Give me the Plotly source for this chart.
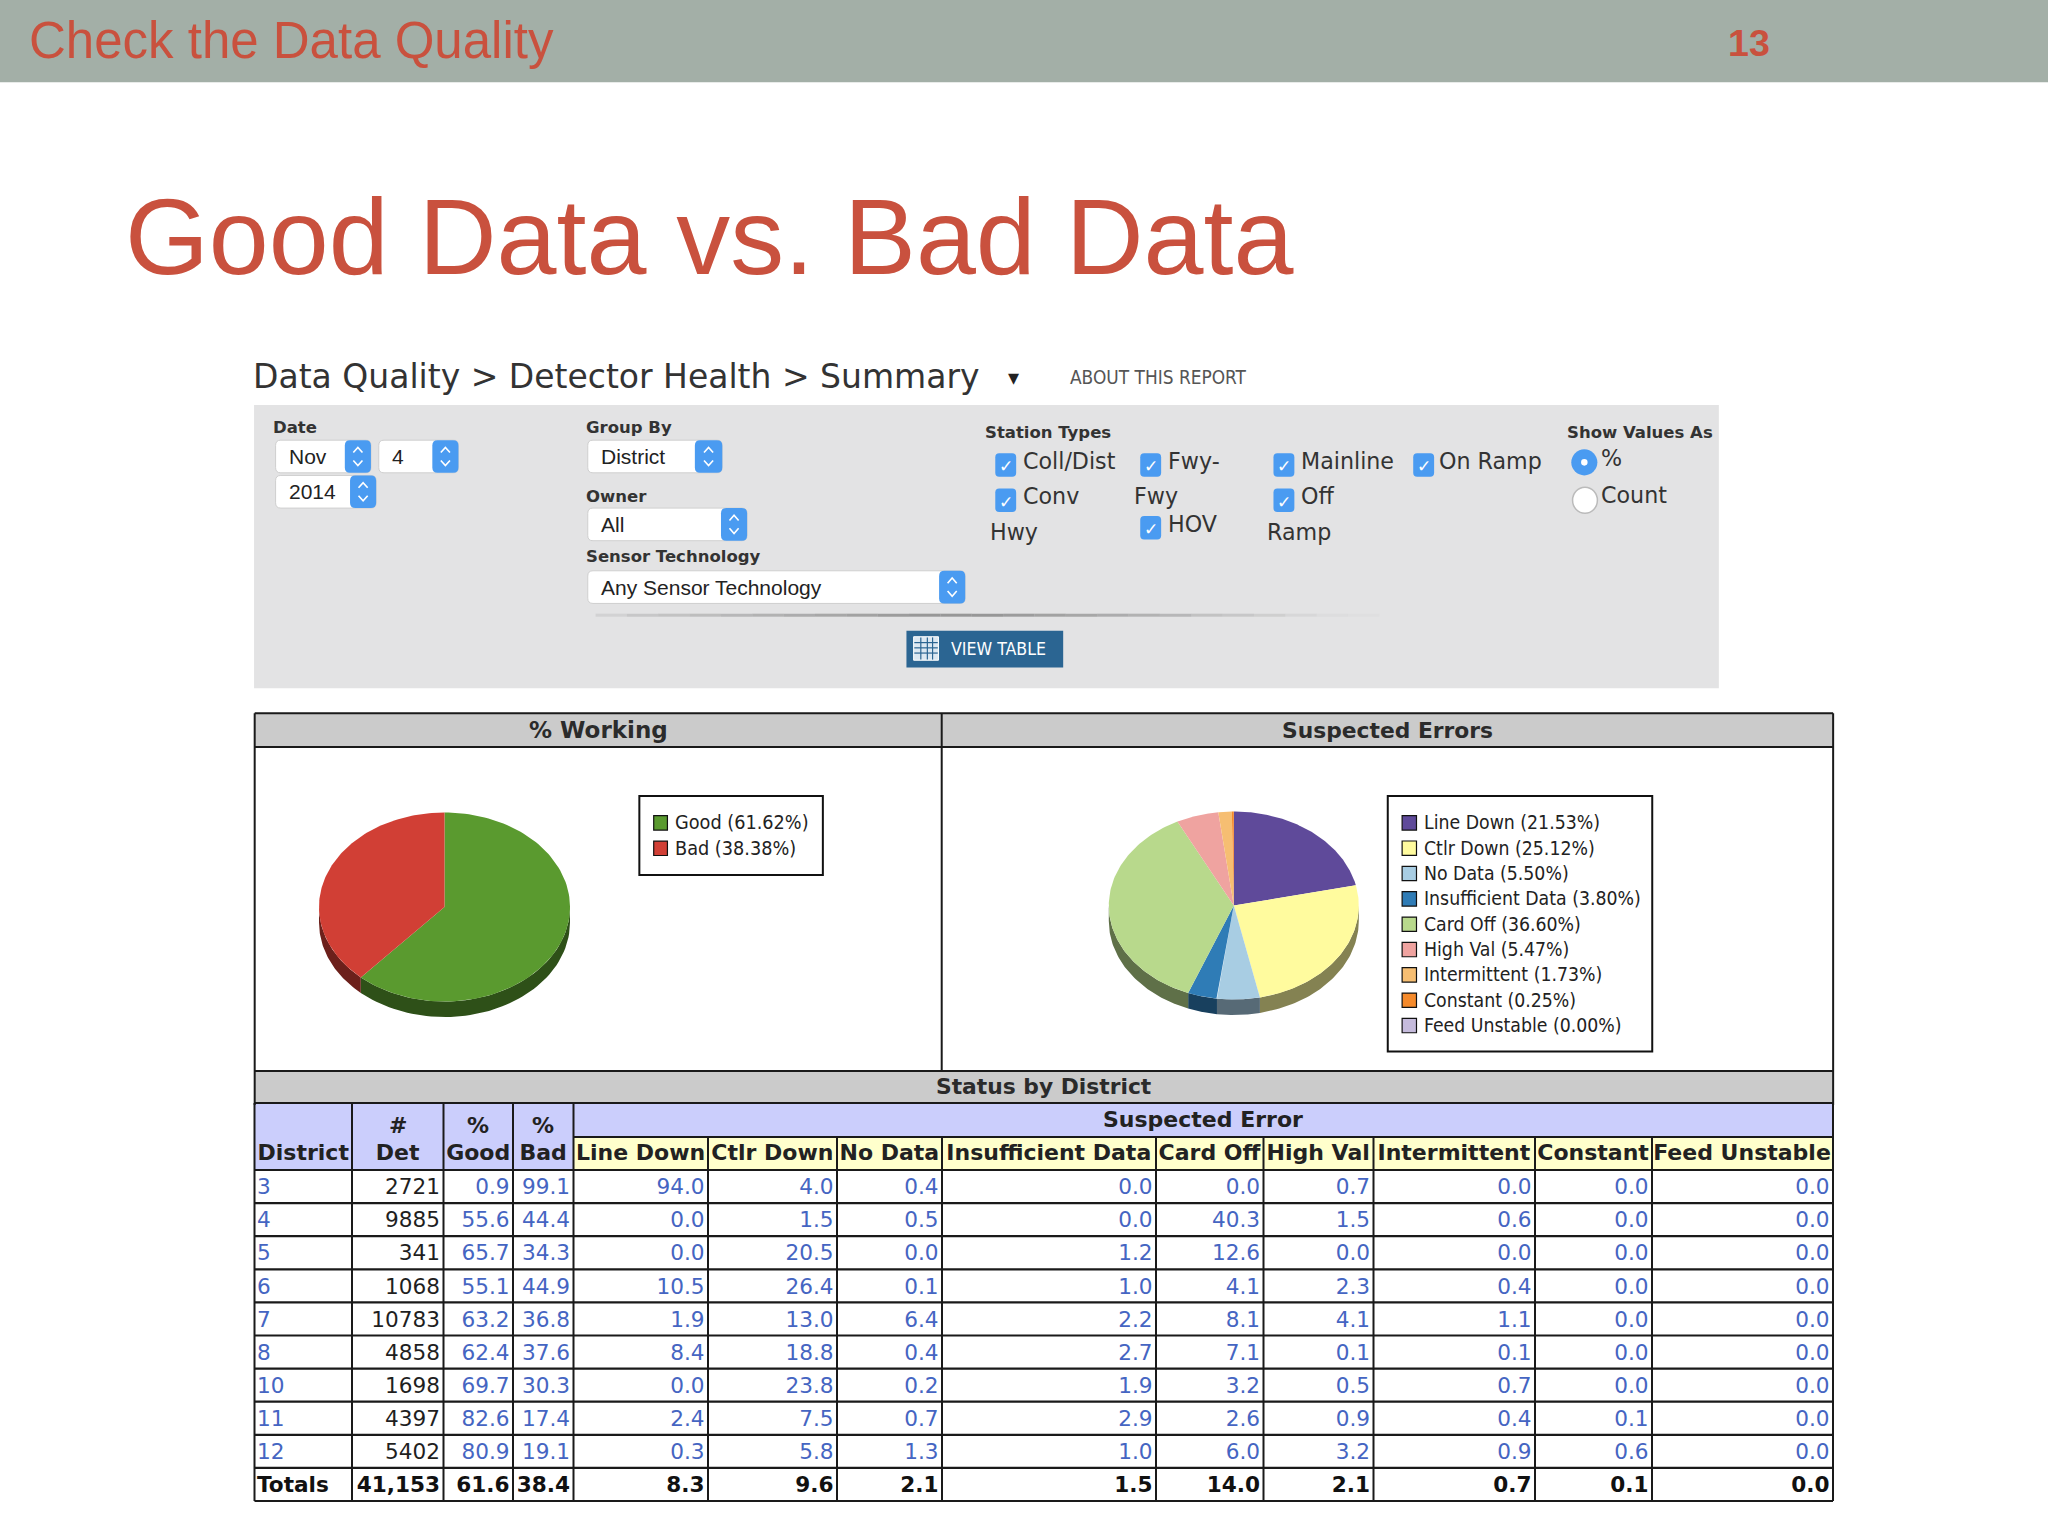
import numpy as np
import plotly.graph_objects as go

# ---------- data ----------
working_labels = ["Good", "Bad"]
working_values = [61.62, 38.38]
working_colors = ["#5A9A2F", "#D13F35"]

error_labels = ["Line Down", "Ctlr Down", "No Data", "Insufficient Data", "Card Off",
                "High Val", "Intermittent", "Constant", "Feed Unstable"]
error_values = [21.53, 25.12, 5.50, 3.80, 36.60, 5.47, 1.73, 0.25, 0.00]
error_colors = ["#5F4A9A", "#FFFB9E", "#A8CDE3", "#2F7CB6", "#B8D98C",
                "#EFA3A0", "#F6BE72", "#F58A2B", "#C5BBDC"]

districts = ["3", "4", "5", "6", "7", "8", "10", "11", "12", "Totals"]
det = ["2721", "9885", "341", "1068", "10783", "4858", "1698", "4397", "5402", "41,153"]
pct_good = ["0.9", "55.6", "65.7", "55.1", "63.2", "62.4", "69.7", "82.6", "80.9", "61.6"]
pct_bad = ["99.1", "44.4", "34.3", "44.9", "36.8", "37.6", "30.3", "17.4", "19.1", "38.4"]
line_down = ["94.0", "0.0", "0.0", "10.5", "1.9", "8.4", "0.0", "2.4", "0.3", "8.3"]
ctlr_down = ["4.0", "1.5", "20.5", "26.4", "13.0", "18.8", "23.8", "7.5", "5.8", "9.6"]
no_data = ["0.4", "0.5", "0.0", "0.1", "6.4", "0.4", "0.2", "0.7", "1.3", "2.1"]
insufficient = ["0.0", "0.0", "1.2", "1.0", "2.2", "2.7", "1.9", "2.9", "1.0", "1.5"]
card_off = ["0.0", "40.3", "12.6", "4.1", "8.1", "7.1", "3.2", "2.6", "6.0", "14.0"]
high_val = ["0.7", "1.5", "0.0", "2.3", "4.1", "0.1", "0.5", "0.9", "3.2", "2.1"]
intermittent = ["0.0", "0.6", "0.0", "0.4", "1.1", "0.1", "0.7", "0.4", "0.9", "0.7"]
constant = ["0.0", "0.0", "0.0", "0.0", "0.0", "0.0", "0.0", "0.1", "0.6", "0.1"]
feed_unstable = ["0.0"] * 10

table_headers = ["District", "Det", "Good", "Bad", "Line Down", "Ctlr Down", "No Data",
                 "Insufficient Data", "Card Off", "High Val", "Intermittent", "Constant",
                 "Feed Unstable"]

# ---------- helpers (coordinates in a 1568-wide working space, scaled to 2048) ----------
S = 2048 / 1568
RED = "#C9513E"
DK = "#2B2B2B"
shapes, annos, traces = [], [], []


def rect(x0, y0, x1, y1, fill=None, line=None, w=1.0, layer="below"):
    shapes.append(dict(type="rect", xref="x", yref="y", x0=x0 * S, y0=y0 * S, x1=x1 * S, y1=y1 * S,
                       fillcolor=fill or "rgba(0,0,0,0)", layer=layer,
                       line=dict(color=line or "rgba(0,0,0,0)", width=w if line else 0)))


def seg(x0, y0, x1, y1, color="#1A1A1A", w=2.0, layer="above", opacity=1.0):
    shapes.append(dict(type="line", xref="x", yref="y", x0=x0 * S, y0=y0 * S, x1=x1 * S, y1=y1 * S,
                       layer=layer, opacity=opacity, line=dict(color=color, width=w)))


def rrect_path(x0, y0, x1, y1, r):
    x0, y0, x1, y1, r = x0 * S, y0 * S, x1 * S, y1 * S, r * S
    return (f"M{x0+r},{y0} L{x1-r},{y0} Q{x1},{y0} {x1},{y0+r} L{x1},{y1-r} Q{x1},{y1} {x1-r},{y1} "
            f"L{x0+r},{y1} Q{x0},{y1} {x0},{y1-r} L{x0},{y0+r} Q{x0},{y0} {x0+r},{y0} Z")


def rrect(x0, y0, x1, y1, r, fill, line=None, w=1.0):
    shapes.append(dict(type="path", xref="x", yref="y", path=rrect_path(x0, y0, x1, y1, r),
                       fillcolor=fill, layer="below",
                       line=dict(color=line or "rgba(0,0,0,0)", width=w if line else 0)))


def text(x, y, s, size, color=DK, family="DejaVu Sans", anchor="left"):
    annos.append(dict(x=x * S, y=y * S, xref="x", yref="y", text=s, showarrow=False, xanchor=anchor,
                      yanchor="middle", borderpad=0, borderwidth=0,
                      font=dict(size=size, color=color, family=family)))


def shade(hexcolor, f=0.52):
    r, g, b = int(hexcolor[1:3], 16), int(hexcolor[3:5], 16), int(hexcolor[5:7], 16)
    return f"rgb({int(r*f)},{int(g*f)},{int(b*f)})"


def pie3d(values, colors, cx, cy, rx, ry, depth):
    """Tilted pie: clockwise from 12 o'clock, wedges scaled from the values."""
    total = sum(values)
    edges = np.concatenate([[0.0], np.cumsum(values)]) / total * 2 * np.pi
    for v, c, a0, a1 in zip(values, colors, edges[:-1], edges[1:]):
        lo, hi = max(a0, np.pi / 2), min(a1, 3 * np.pi / 2)
        if v <= 0 or hi <= lo:
            continue
        t = np.linspace(lo, hi, 60)
        xs = cx + rx * np.sin(t)
        ys = cy - ry * np.cos(t)
        traces.append(go.Scatter(x=np.r_[xs, xs[::-1], xs[0]], y=np.r_[ys, ys[::-1] + depth, ys[0]],
                                 mode="lines", fill="toself", fillcolor=shade(c), line=dict(width=0),
                                 hoverinfo="skip", showlegend=False))
    for v, c, a0, a1 in zip(values, colors, edges[:-1], edges[1:]):
        if v <= 0:
            continue
        t = np.linspace(a0, a1, 120)
        xs = np.r_[cx, cx + rx * np.sin(t), cx]
        ys = np.r_[cy, cy - ry * np.cos(t), cy]
        traces.append(go.Scatter(x=xs, y=ys, mode="lines", fill="toself", fillcolor=c,
                                 line=dict(width=0), hoverinfo="skip", showlegend=False))


# ---------- slide chrome ----------
rect(0, 0, 1568, 63, fill="#A3AFA7")
text(22, 31, "Check the Data Quality", 51, RED, "Liberation Sans")
text(1323, 33, "<b>13</b>", 37.6, RED, "Liberation Sans")
text(96, 181, "Good Data vs. Bad Data", 107.8, RED, "Liberation Sans")

# ---------- report header ----------
text(194, 288, "Data Quality &gt; Detector Health &gt; Summary", 33, "#333333")
text(776, 289, "▾", 22, "#222222", anchor="center")
text(819, 289, "ABOUT THIS REPORT", 18.9, "#555555", "DejaVu Sans Condensed")

rect(194.5, 310, 1316, 527, fill="#E3E3E4")
for lab, x, y in [("Date", 209, 327), ("Group By", 449, 327), ("Owner", 449, 380),
                  ("Sensor Technology", 449, 426), ("Station Types", 754, 331),
                  ("Show Values As", 1200, 331)]:
    text(x, y, f"<b>{lab}</b>", 16.5, "#333333")

BLUE = "#4A9BF1"
for lab, x0, x1, b0, y0 in [("Nov", 211, 284, 264, 337), ("4", 290, 351, 331, 337),
                            ("2014", 211, 288, 268, 364), ("District", 450, 553, 532, 337),
                            ("All", 450, 572, 552, 389),
                            ("Any Sensor Technology", 450, 739, 719, 437)]:
    y1 = y0 + 25
    rrect(x0, y0, x1, y1, 4, "#FFFFFF", "#CFCFCF", 1)
    rrect(b0, y0, x1, y1, 4, BLUE)
    text(x0 + 10, (y0 + y1) / 2, lab, 21, "#222222", "Liberation Sans")
    xm = (b0 + x1) / 2
    ym = (y0 + y1) / 2
    for sgn in (-1, 1):
        shapes.append(dict(type="path", xref="x", yref="y", layer="below",
                           path=f"M{(xm-3.5)*S},{(ym+sgn*3)*S} L{xm*S},{(ym+sgn*7)*S} L{(xm+3.5)*S},{(ym+sgn*3)*S}",
                           line=dict(color="#FFFFFF", width=1.6)))

for bx, by in [(770, 356), (881, 356), (983, 356), (1090, 356), (770, 383), (983, 383), (881, 404)]:
    rrect(bx - 8, by - 9, bx + 8, by + 9, 3, BLUE)
    text(bx, by + 1, "✓", 17, "#FFFFFF", "DejaVu Sans", anchor="center")
for lab, x, y in [("Coll/Dist", 783, 353), ("Fwy-", 894, 353), ("Mainline", 996, 353),
                  ("On Ramp", 1102, 353), ("Conv", 783, 380), ("Fwy", 868, 380), ("Off", 996, 380),
                  ("Hwy", 758, 407), ("HOV", 894, 401), ("Ramp", 970, 407), ("%", 1226, 351),
                  ("Count", 1226, 379)]:
    text(x, y, lab, 22.2, "#333333")

shapes.append(dict(type="circle", xref="x", yref="y", layer="below", x0=1203 * S, x1=1223 * S, y0=344 * S,
                   y1=364 * S, fillcolor=BLUE, line=dict(width=0)))
shapes.append(dict(type="circle", xref="x", yref="y", layer="below", x0=1210.5 * S, x1=1215.5 * S, y0=351.5 * S,
                   y1=356.5 * S, fillcolor="#FFFFFF", line=dict(width=0)))
shapes.append(dict(type="circle", xref="x", yref="y", layer="below", x0=1204 * S, x1=1223 * S, y0=373 * S,
                   y1=393 * S, fillcolor="#FFFFFF", line=dict(color="#BBBBBB", width=1.5)))

# fading divider above the button
for x0, x1, op in zip(range(456, 1040, 24), range(480, 1064, 24),
                      [.15, .25, .3, .35, .4, .45, .5, .55, .6, .65, .7, .7, .7,
                       .65, .6, .55, .5, .45, .4, .3, .25, .18, .1, .05, .03]):
    seg(x0, 471, x1, 471, "#777777", 3, "below", op)

rect(694, 483, 814, 511, fill="#2B6592")
rect(699.5, 487.5, 718.5, 505.5, fill="#DCE8F2", line="#FFFFFF", w=1)
for yy in (492, 496, 500):
    seg(700, yy, 718, yy, "#2B6592", 1.2, "below")
for xx in (705, 710, 714):
    seg(xx, 488, xx, 505, "#2B6592", 1.2, "below")
text(728, 497, "VIEW TABLE", 17.6, "#FFFFFF", "DejaVu Sans Condensed")

# ---------- chart panels ----------
rect(195, 546, 1403.5, 572, fill="#CBCBCB")
rect(195, 820, 1403.5, 846, fill="#CBCBCB")
text(458, 559, "<b>% Working</b>", 23, "#2B2B2B", anchor="center")
text(1062, 559, "<b>Suspected Errors</b>", 21.8, "#2B2B2B", anchor="center")
text(799, 832, "<b>Status by District</b>", 21.8, "#2B2B2B", anchor="center")

pie3d(working_values, working_colors, 444.5, 907, 125.5, 94.5, 15.5)
pie3d(error_values, error_colors, 1233.8, 905.5, 125, 94, 15.5)

rect(489.5, 609.5, 630, 670, fill="#FFFFFF", line="#111111", w=2)
for i, (lab, val, col) in enumerate(zip(working_labels, working_values, working_colors)):
    y = 630 + i * 19.5
    rect(500.5, y - 5.5, 511, y + 5.5, fill=col, line="#111111", w=1.2)
    text(517, y, f"{lab} ({val:.2f}%)", 19.7, "#222222", "DejaVu Sans Condensed")

rect(1062.5, 609.5, 1265, 805, fill="#FFFFFF", line="#111111", w=2)
for i, (lab, val, col) in enumerate(zip(error_labels, error_values, error_colors)):
    y = 630 + i * 19.4
    rect(1073.5, y - 5.5, 1084.5, y + 5.5, fill=col, line="#111111", w=1.2)
    text(1090.5, y, f"{lab} ({val:.2f}%)", 19.3, "#222222", "DejaVu Sans Condensed")

# ---------- table ----------
col_px = [254.5, 352, 443.5, 513, 573.5, 708, 837, 942, 1156, 1263.5, 1373.5, 1535, 1652, 1833]
up_px, top_px, hdr_px, bot_px = 1103, 1137, 1170, 1501
HDR_BLUE, HDR_YEL = "#CBCEFC", "#FFFFCC"
GRID = "#1A1A1A"
LINK = "#4565C2"
columns = [districts, det, pct_good, pct_bad, line_down, ctlr_down, no_data, insufficient,
           card_off, high_val, intermittent, constant, feed_unstable]
n = len(districts)
row_h = (bot_px - hdr_px) / n
body_colors = [["#1F1F1F" if ci == 1 else LINK] * (n - 1) for ci in range(len(columns))]

rect(col_px[0] / S, up_px / S, col_px[-1] / S, hdr_px / S, fill=HDR_BLUE)
rect(col_px[4] / S, top_px / S, col_px[-1] / S, hdr_px / S, fill=HDR_YEL)


def dom(x0, x1, y0, y1):
    return dict(x=[x0 / 2048, x1 / 2048], y=[1 - y1 / 1536, 1 - y0 / 1536])


NOLINE = dict(color="rgba(0,0,0,0)", width=0)
NOFILL = dict(color="rgba(0,0,0,0)")
# column titles
traces.append(go.Table(
    domain=dom(col_px[0], col_px[-1], top_px - 2, hdr_px - 1),
    columnwidth=list(np.diff(col_px)),
    header=dict(values=[h.replace(" ", chr(160)) for h in table_headers], height=33, align="center",
                fill=NOFILL, line=NOLINE,
                font=dict(family="DejaVu Sans", size=22, color="#222222", weight="bold")),
))
# body text: the renderer pads cells by 8px, so the text columns are offset to sit close to the rules
LEFT_SHIFT, RIGHT_SHIFT = -5.5, 4.5


def body_table(c0, c1, shift, align, y0, y1, rows, weight):
    vals = [columns[c][rows] for c in range(c0, c1)]
    if weight == "bold":
        colors = "#111111"
    else:
        colors = body_colors[c0:c1]
    traces.append(go.Table(
        domain=dom(col_px[c0] + shift, col_px[c1] + shift, y0, y1 + 2),
        columnwidth=list(np.diff(col_px[c0:c1 + 1])),
        header=dict(values=[""] * (c1 - c0), height=0, fill=NOFILL, line=NOLINE),
        cells=dict(values=vals, height=row_h, align=align, fill=NOFILL, line=NOLINE,
                   font=dict(family="DejaVu Sans", size=21.6, color=colors, weight=weight)),
    ))


split_px = bot_px - row_h
body_table(0, 1, LEFT_SHIFT, "left", hdr_px, split_px, slice(0, n - 1), "normal")
body_table(1, 13, RIGHT_SHIFT, "right", hdr_px, split_px, slice(0, n - 1), "normal")
body_table(0, 1, LEFT_SHIFT, "left", split_px, bot_px, slice(n - 1, n), "bold")
body_table(1, 13, RIGHT_SHIFT, "right", split_px, bot_px, slice(n - 1, n), "bold")

# grid rules
for i in range(n + 1):
    seg(col_px[0] / S, (hdr_px + i * row_h) / S, col_px[-1] / S, (hdr_px + i * row_h) / S, GRID, 2.2)
for x in col_px:
    seg(x / S, top_px / S, x / S, bot_px / S, GRID, 2)
seg(col_px[0] / S, up_px / S, col_px[-1] / S, up_px / S, GRID, 2)
seg(col_px[4] / S, top_px / S, col_px[-1] / S, top_px / S, GRID, 2)
for x in col_px[:5] + col_px[-1:]:
    seg(x / S, up_px / S, x / S, top_px / S, GRID, 2)
for i, sym in [(0, "#"), (1, "%"), (2, "%")]:
    text((col_px[i + 1] + col_px[i + 2]) / 2 / S, 861.5, f"<b>{sym}</b>", 22, "#222222", anchor="center")
text((col_px[4] + col_px[-1]) / 2 / S, 857, "<b>Suspected Error</b>", 22, "#222222", anchor="center")

# frame lines
seg(195, 546, 1403.5, 546)
seg(195, 572, 1403.5, 572)
seg(195, 820, 1403.5, 820)
seg(195, 546, 195, 846)
seg(1403.5, 546, 1403.5, 846)
seg(721, 546, 721, 820)

fig = go.Figure(data=traces)
fig.update_layout(
    width=2048, height=1536, margin=dict(l=0, r=0, t=0, b=0), showlegend=False,
    paper_bgcolor="#FFFFFF", plot_bgcolor="#FFFFFF",
    xaxis=dict(range=[0, 2048], visible=False, fixedrange=True),
    yaxis=dict(range=[1536, 0], visible=False, fixedrange=True),
    shapes=shapes, annotations=annos,
)
fig.write_html("out.html", config=dict(displayModeBar=False),
               post_script="document.body.style.margin='0';")
